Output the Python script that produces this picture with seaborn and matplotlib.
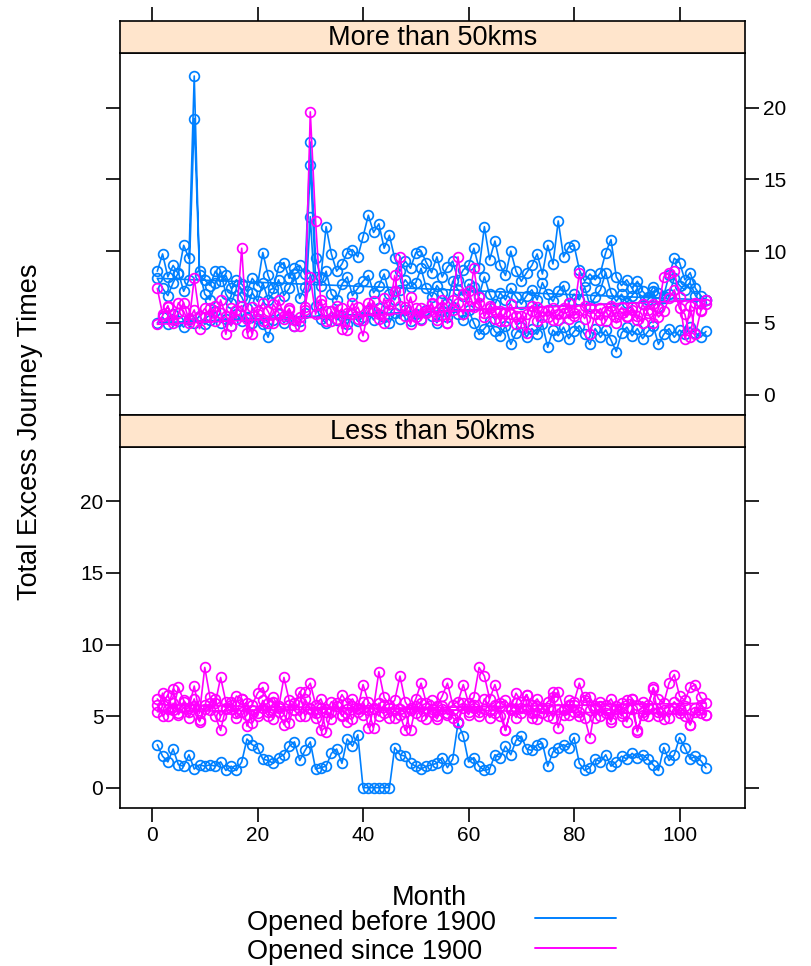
import numpy as np
import pandas as pd
import matplotlib
matplotlib.use("Agg")
import matplotlib.pyplot as plt
import seaborn as sns
from matplotlib.lines import Line2D

sns.set_style("white")
plt.rcParams['font.family'] = ['Liberation Sans', 'DejaVu Sans']
plt.rcParams['text.color'] = 'black'
plt.rcParams['xtick.color'] = 'black'
plt.rcParams['ytick.color'] = 'black'

# ---------------- data ----------------
months = list(range(1, 106))
panels = ["More than 50kms", "Less than 50kms"]
groups = ["Opened before 1900", "Opened since 1900"]
colors = ["#0080ff", "#ff00ff"]
x_ticks = [0, 20, 40, 60, 80, 100]
y_ticks = [0, 5, 10, 15, 20]

# More than 50kms, opened before 1900 (three stations)
far_old_a = [8.6, 9.8, 8.2, 9.0, 8.4, 10.4, 9.5, 22.2, 8.3, 8.0,
             7.6, 8.6, 7.9, 8.3, 7.4, 8.0, 7.7, 7.2, 8.1, 7.6,
             9.9, 8.3, 7.4, 8.9, 9.2, 8.1, 8.8, 9.0, 8.4, 17.6,
             9.5, 8.2, 11.7, 9.8, 8.6, 9.1, 9.9, 10.1, 9.6, 11.0,
             12.5, 11.3, 11.9, 10.2, 11.1, 9.5, 8.6, 9.3, 8.8, 9.9,
             10.0, 9.2, 8.5, 9.6, 8.2, 8.9, 9.3, 8.0, 8.7, 9.0,
             10.2, 8.8, 11.7, 9.4, 10.7, 9.0, 8.3, 10.0, 8.6, 7.9,
             8.5, 9.0, 9.8, 8.4, 10.4, 9.1, 12.1, 9.6, 10.3, 10.4,
             8.7, 7.9, 8.4, 8.0, 8.5, 9.9, 10.8, 8.2, 7.6, 8.0,
             7.4, 7.9, 7.2, 6.8, 7.5, 7.1, 6.9, 8.3, 9.5, 9.2,
             8.0, 8.5, 7.4, 6.9, 6.6]
far_old_b = [8.1, 7.4, 6.9, 7.8, 8.5, 7.2, 8.0, 19.2, 8.6, 7.0,
             6.6, 7.8, 8.6, 7.0, 6.4, 7.3, 6.8, 6.0, 7.1, 6.5,
             7.8, 6.6, 7.1, 8.0, 6.9, 7.4, 8.4, 6.7, 7.5, 16.0,
             8.2, 7.6, 8.6, 7.0, 6.6, 7.7, 8.2, 6.9, 7.4, 7.9,
             8.3, 7.1, 7.6, 8.4, 7.0, 6.6, 7.3, 8.0, 7.5, 7.8,
             8.8, 7.4, 6.8, 7.6, 7.1, 6.4, 7.9, 7.3, 6.9, 7.7,
             7.5, 6.9, 8.2, 7.0, 6.3, 7.1, 6.6, 7.4, 6.8, 6.3,
             6.9, 7.3, 6.6, 7.8, 7.0, 6.5, 7.2, 7.6, 6.4, 7.0,
             6.6, 7.5, 6.2, 6.8, 7.3, 8.5, 7.1, 6.5, 7.0, 6.4,
             6.9, 7.4, 6.3, 6.6, 7.2, 6.1, 6.7, 7.0, 8.1, 7.6,
             7.3, 7.8, 6.9, 6.4, 6.6]
far_old_c = [5.0, 5.4, 4.9, 5.6, 5.1, 4.7, 5.3, 5.0, 5.5, 4.9,
             5.2, 5.8, 5.0, 5.3, 4.8, 5.6, 5.1, 5.4, 5.0, 5.3,
             4.9, 4.0, 5.2, 5.6, 5.0, 5.4, 4.8, 5.1, 5.7, 12.4,
             6.2, 5.3, 5.0, 5.8, 5.2, 5.5, 4.9, 5.6, 5.1, 5.4,
             5.8, 5.2, 6.0, 5.4, 5.0, 5.7, 5.3, 5.9, 5.1, 5.6,
             5.3, 5.9, 5.5, 5.0, 5.8, 5.4, 6.1, 5.6, 5.2, 5.9,
             5.0, 4.2, 4.6, 5.1, 4.4, 4.1, 4.8, 3.5, 4.3, 4.7,
             4.0, 4.6, 4.2, 4.9, 3.3, 4.5, 4.1, 4.7, 3.9, 4.4,
             4.8, 4.2, 3.5, 4.6, 4.0, 4.5, 3.8, 3.0, 4.3, 4.7,
             4.1, 4.6, 3.9, 4.4, 4.8, 3.5, 4.2, 4.6, 4.0, 4.5,
             4.2, 4.7, 4.3, 4.0, 4.4]
# More than 50kms, opened since 1900 (two stations)
far_new_a = [7.4, 5.6, 6.1, 5.2, 6.4, 5.8, 5.0, 8.1, 5.5, 6.0,
             5.4, 6.2, 5.7, 4.2, 6.0, 5.3, 10.2, 4.3, 6.1, 5.6,
             6.4, 5.8, 5.0, 6.6, 5.5, 6.0, 5.2, 4.8, 5.9, 19.7,
             12.1, 6.3, 5.8, 5.1, 6.2, 4.6, 5.7, 6.4, 5.3, 4.1,
             5.9, 6.5, 5.6, 5.0, 6.3, 7.2, 9.6, 6.1, 4.9, 6.0,
             5.2, 5.8, 6.4, 5.5, 6.1, 5.0, 6.6, 9.6, 7.0, 6.2,
             8.8, 6.4, 5.7, 6.0, 5.3, 5.8, 5.1, 5.6, 4.9, 5.5,
             4.3, 5.8, 6.1, 5.4, 5.9, 5.2, 5.6, 6.0, 5.3, 5.7,
             8.5, 6.2, 4.2, 5.6, 6.0, 5.1, 5.8, 5.4, 6.1, 5.5,
             5.9, 5.2, 6.3, 5.7, 5.0, 6.0, 8.2, 8.5, 8.6, 6.8,
             3.9, 6.2, 4.2, 5.8, 6.6]
far_new_b = [4.9, 5.5, 6.2, 5.0, 5.7, 6.4, 5.2, 5.9, 4.6, 5.4,
             6.0, 5.1, 6.6, 5.5, 4.8, 5.9, 6.2, 5.3, 4.2, 5.8,
             5.1, 5.0, 6.3, 5.7, 5.3, 5.9, 4.8, 5.4, 6.1, 8.2,
             5.6, 6.6, 5.1, 5.8, 5.3, 6.0, 4.5, 5.6, 6.1, 5.2,
             6.4, 5.8, 5.3, 6.7, 5.9, 8.3, 6.2, 5.5, 6.8, 5.4,
             6.0, 5.7, 6.3, 5.2, 6.6, 5.0, 5.9, 6.4, 5.6, 7.2,
             6.1, 6.8, 5.4, 6.2, 5.8, 5.1, 5.7, 6.3, 5.5, 5.0,
             5.6, 6.2, 5.1, 5.8, 5.4, 6.0, 5.2, 5.7, 6.4, 5.5,
             5.9, 5.3, 6.0, 5.6, 5.2, 5.8, 6.2, 5.0, 5.7, 5.4,
             6.1, 5.5, 5.0, 5.9, 6.3, 5.4, 5.8, 6.7, 7.3, 6.0,
             5.6, 4.0, 6.4, 5.9, 6.3]
# Less than 50kms, opened before 1900 (one station)
near_old_a = [3.0, 2.2, 1.8, 2.7, 1.6, 1.5, 2.3, 1.3, 1.6, 1.5,
              1.6, 1.5, 1.8, 1.2, 1.5, 1.2, 1.8, 3.4, 3.0, 2.8,
              2.0, 1.9, 1.7, 2.1, 2.3, 2.9, 3.2, 1.9, 2.6, 3.2,
              1.3, 1.4, 1.5, 2.4, 2.7, 1.7, 3.4, 2.9, 3.7, 0.0,
              0.0, 0.0, 0.0, 0.0, 0.0, 2.8, 2.3, 2.2, 1.7, 1.5,
              1.3, 1.5, 1.6, 1.7, 2.1, 1.4, 2.0, 4.5, 3.6, 1.8,
              2.1, 1.5, 1.2, 1.3, 2.3, 2.1, 2.9, 2.3, 3.3, 3.6,
              2.7, 2.6, 3.0, 3.1, 1.5, 2.5, 2.8, 3.0, 2.8, 3.5,
              1.7, 1.2, 1.4, 2.0, 1.8, 2.3, 1.5, 1.8, 2.2, 2.0,
              2.4, 2.1, 2.3, 2.0, 1.6, 1.2, 2.8, 1.9, 2.3, 3.5,
              2.8, 2.0, 2.2, 1.9, 1.4]
# Less than 50kms, opened since 1900 (three stations)
near_new_a = [6.2, 5.8, 6.5, 5.4, 7.0, 6.1, 5.6, 7.1, 5.2, 8.4,
              6.3, 5.9, 7.7, 6.0, 5.5, 6.4, 6.2, 5.1, 5.8, 6.6,
              7.0, 5.9, 6.3, 5.6, 7.7, 6.1, 5.4, 6.0, 6.7, 7.3,
              5.8, 6.2, 5.3, 6.0, 5.7, 6.5, 5.9, 6.2, 5.5, 7.2,
              6.0, 5.6, 8.1, 6.3, 5.8, 6.1, 7.8, 6.0, 5.4, 6.2,
              7.3, 5.9, 6.1, 5.7, 6.4, 7.3, 5.8, 6.0, 7.2, 5.9,
              6.3, 8.4, 7.8, 6.2, 7.2, 5.9, 6.1, 5.6, 6.6, 6.0,
              6.5, 5.8, 6.2, 5.6, 6.0, 6.3, 6.7, 5.5, 6.1, 6.0,
              7.3, 6.1, 6.3, 5.7, 6.0, 5.8, 6.2, 5.5, 5.9, 6.1,
              6.2, 5.8, 6.0, 5.6, 7.0, 6.2, 5.9, 7.3, 7.9, 6.4,
              6.1, 7.0, 7.2, 6.3, 5.9]
near_new_b = [5.3, 6.6, 5.0, 5.9, 5.2, 6.0, 4.9, 5.7, 4.7, 5.5,
              5.9, 5.0, 4.0, 5.6, 6.0, 5.2, 6.2, 4.3, 5.4, 5.0,
              6.1, 5.3, 4.8, 5.7, 5.1, 4.5, 5.9, 6.7, 5.0, 5.6,
              5.2, 4.0, 5.5, 4.8, 5.9, 5.1, 4.6, 5.7, 5.3, 6.0,
              4.2, 5.5, 5.0, 5.8, 4.9, 5.4, 5.1, 4.0, 5.6, 5.2,
              5.9, 4.8, 5.5, 5.0, 5.7, 5.1, 5.4, 4.6, 5.9, 5.3,
              5.6, 5.0, 6.2, 5.4, 5.8, 5.0, 4.0, 5.5, 4.9, 5.6,
              6.5, 5.2, 4.8, 5.6, 5.0, 6.7, 4.2, 5.4, 5.1, 5.8,
              5.3, 4.9, 3.5, 5.6, 5.0, 5.4, 4.8, 5.7, 5.2, 4.6,
              5.5, 4.0, 5.1, 5.8, 6.9, 5.0, 5.4, 4.9, 5.6, 5.2,
              5.7, 4.4, 5.3, 5.8, 5.1]
near_new_c = [5.8, 5.0, 5.5, 6.9, 5.1, 5.6, 5.3, 6.2, 4.6, 5.8,
              5.4, 6.2, 5.0, 5.5, 5.8, 4.9, 5.3, 5.9, 4.5, 5.2,
              5.6, 5.0, 6.0, 5.3, 4.4, 5.8, 5.4, 5.0, 6.2, 5.5,
              4.9, 5.6, 3.9, 5.3, 5.7, 5.0, 5.5, 4.8, 5.6, 5.1,
              5.4, 4.2, 5.9, 5.2, 5.6, 4.9, 5.5, 5.3, 4.0, 5.7,
              5.0, 5.6, 5.3, 4.8, 5.5, 5.2, 4.9, 4.6, 5.6, 5.1,
              5.8, 5.3, 5.5, 4.9, 5.2, 5.7, 4.0, 5.4, 5.9, 5.2,
              5.5, 4.9, 5.7, 5.2, 5.6, 4.9, 5.5, 5.1, 5.8, 5.3,
              5.0, 6.3, 5.4, 4.9, 5.7, 5.2, 4.6, 5.5, 5.0, 5.6,
              6.2, 3.9, 5.3, 5.0, 5.6, 5.3, 4.8, 5.5, 6.0, 5.4,
              5.0, 4.4, 5.6, 5.2, 5.1]

series_by_panel = {
    "More than 50kms": {
        "Opened before 1900": [far_old_a, far_old_b, far_old_c],
        "Opened since 1900": [far_new_a, far_new_b],
    },
    "Less than 50kms": {
        "Opened before 1900": [near_old_a],
        "Opened since 1900": [near_new_a, near_new_b, near_new_c],
    },
}

rows = []
for panel, gdict in series_by_panel.items():
    for group, slist in gdict.items():
        for vals in slist:
            for m, v in zip(months, vals):
                rows.append((panel, group, m, v))
df = pd.DataFrame(rows, columns=["panel", "group", "Month", "value"])

# ---------------- layout ----------------
W, H = 812, 966
fig = plt.figure(figsize=(W / 100, H / 100), dpi=100)

def fx(px):
    return px / W

def fy(py):
    return 1 - py / H

L, R = 120, 745
xlim = (-6.07, 112.4)
ylim = (-1.42, 23.8)
panel_px = {"More than 50kms": (53, 415, 21), "Less than 50kms": (447, 808, 415)}

palette = dict(zip(groups, colors))
TICK_LEN = 10
TICK_FS = 15
BIG_FS = 19.5

for i, panel in enumerate(panels):
    top, bot, strip_top = panel_px[panel]
    ax = fig.add_axes([fx(L), fy(bot), fx(R - L), (bot - top) / H])
    sub = df[df["panel"] == panel]
    sns.lineplot(data=sub, x="Month", y="value", hue="group", hue_order=groups,
                 palette=palette, estimator=None, sort=False, legend=False,
                 marker="o", markersize=7, markerfacecolor="none",
                 markeredgewidth=1.25, linewidth=1.2, ax=ax)
    for ln in ax.lines:
        ln.set_markeredgecolor(ln.get_color())
        ln.set_markerfacecolor("none")
    ax.set_xlim(*xlim)
    ax.set_ylim(*ylim)
    ax.set_xlabel("")
    ax.set_ylabel("")
    ax.set_xticks(x_ticks)
    ax.set_yticks(y_ticks)
    for s in ax.spines.values():
        s.set_linewidth(1.2)
        s.set_color("black")
    ax.tick_params(direction="out", length=TICK_LEN, width=1.2, colors="black",
                   labelsize=TICK_FS)
    if i == 0:
        ax.tick_params(axis="x", bottom=False, top=False, labelbottom=False)
        ax.tick_params(axis="y", left=True, right=True, labelleft=False,
                       labelright=True, pad=3)
    else:
        ax.tick_params(axis="x", bottom=True, top=False, labelbottom=True, pad=3)
        ax.tick_params(axis="y", left=True, right=True, labelleft=True,
                       labelright=False, pad=2)
    # strip
    sax = fig.add_axes([fx(L), fy(top), fx(R - L), (top - strip_top) / H])
    sax.set_facecolor("#ffe5cc")
    sax.set_xlim(*xlim)
    sax.set_ylim(0, 1)
    sax.set_yticks([])
    for s in sax.spines.values():
        s.set_linewidth(1.2)
        s.set_color("black")
    if i == 0:
        sax.set_xticks(x_ticks)
        sax.tick_params(axis="x", direction="out", top=True, bottom=False,
                        labeltop=False, labelbottom=False, length=TICK_LEN,
                        width=1.2, colors="black")
    else:
        sax.set_xticks([])
    sax.text(0.5, 0.47, panel, transform=sax.transAxes, ha="center", va="center",
             fontsize=BIG_FS, color="black")

# axis titles
fig.text(fx(30), fy(432), "Total Excess Journey Times", rotation=90,
         ha="center", va="center", fontsize=BIG_FS, color="black")
fig.text(fx(429), fy(905), "Month", ha="center", va="baseline",
         fontsize=BIG_FS, color="black")

# key
key_y_text = [930.5, 959]
key_y_line = [918.3, 947.5]
for grp, col, yt, yl in zip(groups, colors, key_y_text, key_y_line):
    fig.text(fx(247), fy(yt), grp, ha="left", va="baseline", fontsize=BIG_FS,
             color="black")
    fig.add_artist(Line2D([fx(535), fx(616)], [fy(yl), fy(yl)], color=col,
                          linewidth=1.4, transform=fig.transFigure))

fig.savefig("out.png", dpi=100)
